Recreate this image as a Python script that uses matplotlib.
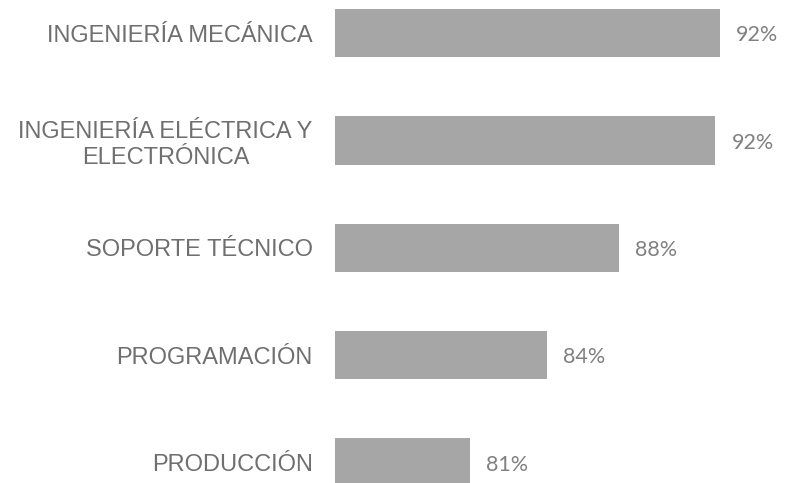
import matplotlib.pyplot as plt

categories = ["INGENIERÍA MECÁNICA", "INGENIERÍA ELÉCTRICA Y\nELECTRÓNICA",
              "SOPORTE TÉCNICO", "PROGRAMACIÓN", "PRODUCCIÓN"]
values = [92.1, 91.9, 87.6, 84.4, 81.0]

bar_color = "#a6a6a6"
label_color = "#6f6f6f"
value_color = "#808080"

fig = plt.figure(figsize=(7.92, 4.83), dpi=100)
ax = fig.add_axes([335 / 792, 0, 457 / 792, 1])

y = range(len(categories))
x0 = 75
ax.barh(y, [v - x0 for v in values], left=x0, height=0.45, color=bar_color)

for i, v in enumerate(values):
    ax.text(v + 0.72, i + 0.02, f"{v:.0f}%", va="center", ha="left",
            fontsize=15.5, color=value_color, family="Lato")

ax.set_xlim(x0, x0 + 457 / 22.5)
ax.set_ylim(4.19, -0.31)
ax.set_yticks(list(y))
ax.set_yticklabels(categories, fontsize=17, color=label_color, family="Liberation Sans")
for lbl in ax.get_yticklabels():
    lbl.set_multialignment("center")
ax.tick_params(axis="y", length=0, pad=16)
ax.set_xticks([])
for s in ax.spines.values():
    s.set_visible(False)

fig.savefig("out.png", dpi=100)
